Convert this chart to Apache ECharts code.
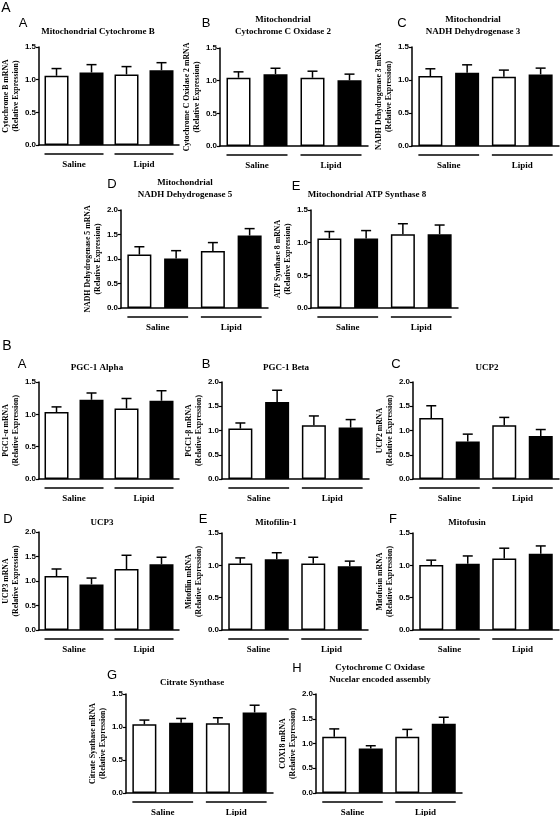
<!DOCTYPE html>
<html><head><meta charset="utf-8">
<script src="https://cdn.jsdelivr.net/npm/echarts@6/dist/echarts.min.js"></script>
<style>html,body{margin:0;padding:0;background:#fff}#c{width:560px;height:816px}</style>
</head><body><div id="c"></div>
<script>
// ---- categories ----
const groups = ['Saline', 'Lipid'];
const barCats = ['Saline A', 'Saline B', 'Lipid A', 'Lipid B'];
const fills = ['#ffffff', '#000000', '#ffffff', '#000000'];

// ---- data: means and SEM (order: Saline white, Saline black, Lipid white, Lipid black) ----
const cytB_mean = [1.06, 1.11, 1.08, 1.145];
const cytB_sem  = [0.11, 0.12, 0.12, 0.115];
const cox2_mean = [1.045, 1.10, 1.045, 1.005];
const cox2_sem  = [0.09, 0.09, 0.10, 0.095];
const nd3_mean  = [1.06, 1.11, 1.05, 1.085];
const nd3_sem   = [0.11, 0.12, 0.10, 0.095];
const nd5_mean  = [1.09, 1.01, 1.165, 1.48];
const nd5_sem   = [0.16, 0.16, 0.17, 0.14];
const atp8_mean = [1.065, 1.065, 1.13, 1.13];
const atp8_sem  = [0.105, 0.12, 0.16, 0.14];
const pgc1a_mean = [1.035, 1.225, 1.09, 1.21];
const pgc1a_sem  = [0.08, 0.105, 0.155, 0.155];
const pgc1b_mean = [1.04, 1.59, 1.11, 1.06];
const pgc1b_sem  = [0.115, 0.24, 0.19, 0.165];
const ucp2_mean = [1.26, 0.775, 1.11, 0.885];
const ucp2_sem  = [0.25, 0.15, 0.16, 0.135];
const ucp3_mean = [1.10, 0.93, 1.245, 1.34];
const ucp3_sem  = [0.145, 0.13, 0.28, 0.145];
const mitofilin_mean = [1.03, 1.095, 1.03, 0.985];
const mitofilin_sem  = [0.085, 0.10, 0.095, 0.08];
const mitofusin_mean = [1.005, 1.025, 1.105, 1.18];
const mitofusin_sem  = [0.075, 0.12, 0.16, 0.12];
const cs_mean = [1.04, 1.065, 1.055, 1.22];
const cs_sem  = [0.065, 0.065, 0.085, 0.11];
const cox18_mean = [1.135, 0.90, 1.135, 1.40];
const cox18_sem  = [0.16, 0.055, 0.15, 0.13];

// ---- panel layout ----
const panels = [
  {mean: cytB_mean, sem: cytB_sem, max: 1.5, yName: 'Cytochrome B mRNA', title: ['Mitochondrial Cytochrome B'], tx: 98, ty: 32, letter: 'A', lx: 23, ly: 23, g: [32, 47, 147, 98]},
  {mean: cox2_mean, sem: cox2_sem, max: 1.5, yName: 'Cytochrome C Oxidase 2 mRNA', title: ['Mitochondrial', 'Cytochrome C Oxidase 2'], tx: 283, ty: 20, letter: 'B', lx: 206, ly: 23, g: [220, 48, 148, 98]},
  {mean: nd3_mean, sem: nd3_sem, max: 1.5, yName: 'NADH Dehydrogenase 3 mRNA', title: ['Mitochondrial', 'NADH Dehydrogenase 3'], tx: 473, ty: 20, letter: 'C', lx: 402, ly: 23, g: [412, 47, 147, 99]},
  {mean: nd5_mean, sem: nd5_sem, max: 2.0, yName: 'NADH Dehydrogenase 5 mRNA', title: ['Mitochondrial', 'NADH Dehydrogenase 5'], tx: 185, ty: 183, letter: 'D', lx: 112, ly: 184, g: [121, 210, 147, 98]},
  {mean: atp8_mean, sem: atp8_sem, max: 1.5, yName: 'ATP Synthase 8 mRNA', title: ['Mitochondrial ATP Synthase 8'], tx: 367, ty: 195, letter: 'E', lx: 296, ly: 186, g: [311, 210, 147, 98]},
  {mean: pgc1a_mean, sem: pgc1a_sem, max: 1.5, yName: 'PGC1-\u03b1 mRNA', title: ['PGC-1 Alpha'], tx: 97, ty: 368, letter: 'A', lx: 22, ly: 364, g: [32, 382, 147, 97]},
  {mean: pgc1b_mean, sem: pgc1b_sem, max: 2.0, yName: 'PGC1-\u03b2 mRNA', title: ['PGC-1 Beta'], tx: 286, ty: 368, letter: 'B', lx: 206, ly: 364, g: [222, 382, 147, 97]},
  {mean: ucp2_mean, sem: ucp2_sem, max: 2.0, yName: 'UCP2 mRNA', title: ['UCP2'], tx: 487, ty: 368, letter: 'C', lx: 396, ly: 364, g: [413, 382, 146, 97]},
  {mean: ucp3_mean, sem: ucp3_sem, max: 2.0, yName: 'UCP3 mRNA', title: ['UCP3'], tx: 102, ty: 523, letter: 'D', lx: 8, ly: 519, g: [32, 532, 147, 98]},
  {mean: mitofilin_mean, sem: mitofilin_sem, max: 1.5, yName: 'Mitofilin mRNA', title: ['Mitofilin-1'], tx: 276, ty: 523, letter: 'E', lx: 203, ly: 519, g: [222, 533, 146, 97]},
  {mean: mitofusin_mean, sem: mitofusin_sem, max: 1.5, yName: 'Mitofusin mRNA', title: ['Mitofusin'], tx: 467, ty: 523, letter: 'F', lx: 393, ly: 519, g: [413, 533, 146, 97]},
  {mean: cs_mean, sem: cs_sem, max: 1.5, yName: 'Citrate Synthase mRNA', title: ['Citrate Synthase'], tx: 192, ty: 683, letter: 'G', lx: 112, ly: 675, g: [126, 694, 147, 99]},
  {mean: cox18_mean, sem: cox18_sem, max: 2.0, yName: 'COX18 mRNA', title: ['Cytochrome C Oxidase', 'Nucelar encoded assembly'], tx: 380, ty: 668, letter: 'H', lx: 297, ly: 668, g: [316, 694, 146, 99]}
];

const SERIF = '"Liberation Serif", "Times New Roman", serif';
const SANS = '"Liberation Sans", Arial, sans-serif';
const BAR_W = 24;

const grid = [], xAxis = [], yAxis = [], series = [], graphic = [];

graphic.push({type: 'text', x: 6, y: 8, style: {text: 'A', font: '14px ' + SANS, fill: '#000', textAlign: 'center', textVerticalAlign: 'middle'}});
graphic.push({type: 'text', x: 7, y: 346, style: {text: 'B', font: '14px ' + SANS, fill: '#000', textAlign: 'center', textVerticalAlign: 'middle'}});

panels.forEach((p, k) => {
  grid.push({left: p.g[0], top: p.g[1], width: p.g[2], height: p.g[3], containLabel: false});
  xAxis.push({
    type: 'category', gridIndex: k, data: barCats, boundaryGap: true,
    axisLine: {lineStyle: {color: '#000', width: 1.5}},
    axisTick: {show: false}, axisLabel: {show: false}, splitLine: {show: false}
  });
  yAxis.push({
    type: 'value', gridIndex: k, min: 0, max: p.max, interval: 0.5,
    axisLine: {show: true, lineStyle: {color: '#000', width: 1.5}},
    axisTick: {show: true, length: 3, lineStyle: {color: '#000', width: 1.2}},
    splitLine: {show: false},
    axisLabel: {fontSize: 8, fontWeight: 'bold', fontFamily: SANS, color: '#000', margin: 3,
                formatter: v => v.toFixed(1)},
    name: p.yName + '\n(Relative Expression)', nameLocation: 'middle', nameRotate: 90, nameGap: 17,
    nameTextStyle: {fontFamily: SERIF, fontWeight: 'bold', fontSize: 7.8, lineHeight: 10, color: '#000'}
  });
  series.push({
    type: 'bar', xAxisIndex: k, yAxisIndex: k, barWidth: BAR_W, animation: false,
    data: p.mean.map((v, i) => ({value: v, itemStyle: {color: fills[i]}})),
    itemStyle: {borderColor: '#000', borderWidth: 1.5}
  });
  series.push({
    type: 'custom', xAxisIndex: k, yAxisIndex: k, animation: false, z: 5,
    data: p.mean.map((v, i) => [i, v, p.sem[i]]),
    encode: {x: 0, y: 1},
    renderItem: (params, api) => {
      const i = api.value(0), m = api.value(1), s = api.value(2);
      const a = api.coord([i, m]);
      const b = api.coord([i, m + s]);
      const st = {stroke: '#000', lineWidth: 1.5};
      return {type: 'group', children: [
        {type: 'line', shape: {x1: a[0], y1: a[1], x2: b[0], y2: b[1]}, style: st},
        {type: 'line', shape: {x1: b[0] - 5, y1: b[1], x2: b[0] + 5, y2: b[1]}, style: st}
      ]};
    }
  });
  series.push({
    type: 'custom', xAxisIndex: k, yAxisIndex: k, animation: false, clip: false, silent: true,
    data: groups.map((g, j) => [2 * j, 0, 2 * j + 1]),
    encode: {x: 0, y: 1},
    renderItem: (params, api) => {
      const p1 = api.coord([api.value(0), 0]);
      const p2 = api.coord([api.value(2), 0]);
      const x1 = p1[0] - BAR_W / 2, x2 = p2[0] + BAR_W / 2;
      const y = p1[1] + 9;
      return {type: 'group', children: [
        {type: 'line', shape: {x1: x1, y1: y, x2: x2, y2: y}, style: {stroke: '#000', lineWidth: 1.5}},
        {type: 'text', x: (x1 + x2) / 2, y: y + 11, style: {text: groups[params.dataIndex], font: 'bold 9px ' + SERIF, fill: '#000', textAlign: 'center', textVerticalAlign: 'middle'}}
      ]};
    }
  });
  p.title.forEach((t, j) => {
    graphic.push({type: 'text', x: p.tx, y: p.ty + j * 11.5, style: {text: t, font: 'bold 9px ' + SERIF, fill: '#000', textAlign: 'center', textVerticalAlign: 'middle'}});
  });
  graphic.push({type: 'text', x: p.lx, y: p.ly, style: {text: p.letter, font: '13px ' + SANS, fill: '#000', textAlign: 'center', textVerticalAlign: 'middle'}});
});

const chart = echarts.init(document.getElementById('c'), null, {renderer: 'canvas'});
chart.setOption({animation: false, backgroundColor: '#fff', grid, xAxis, yAxis, series, graphic});
</script>
</body></html>
